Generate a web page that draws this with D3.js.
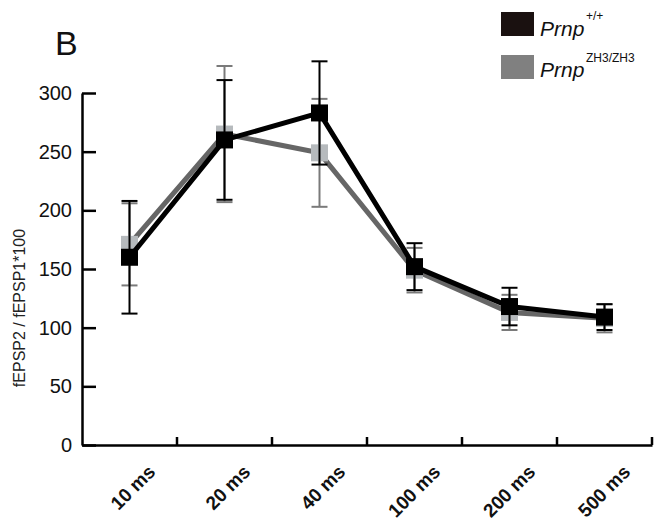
<!DOCTYPE html>
<html>
<head>
<meta charset="utf-8">
<script src="https://cdn.jsdelivr.net/npm/d3@7"></script>
<style>
  body { margin: 0; background: #fff; }
  svg { display: block; font-family: "Liberation Sans", Arial, sans-serif; }
</style>
</head>
<body>
<svg id="chart" width="654" height="524"></svg>
<script>
// paired-pulse intervals
var categories = ["10 ms", "20 ms", "40 ms", "100 ms", "200 ms", "500 ms"];
// Prnp +/+ (black)
var wtMean = [160, 260, 283, 152, 118, 109];
var wtErr = [48, 51, 44, 20, 16, 11];
// Prnp ZH3/ZH3 (grey)
var zhMean = [171, 265, 249, 149, 113, 108];
var zhErr = [35, 58, 46, 19, 15, 12];
var yTicks = [0, 50, 100, 150, 200, 250, 300];

var svg = d3.select("#chart");
var plotLeft = 82, plotRight = 652, plotTop = 93, plotBottom = 445;

var x = d3.scaleBand().domain(categories).range([plotLeft, plotRight]).padding(0);
var y = d3.scaleLinear().domain([0, 300]).range([plotBottom, plotTop]);
var cx = function(d) { return x(d) + x.bandwidth() / 2; };

// y axis, ticks point inward
var yAxis = svg.append("g")
    .attr("transform", "translate(" + plotLeft + ",0)")
    .call(d3.axisLeft(y).tickValues(yTicks).tickSize(-14).tickSizeOuter(0).tickPadding(10));
yAxis.select(".domain").attr("stroke-width", 2.5);
yAxis.selectAll(".tick line").attr("stroke-width", 2.5);
yAxis.selectAll(".tick text").attr("font-size", 20).attr("fill", "#111");

// x axis: labels at band centres, small ticks at band edges
var xAxis = svg.append("g")
    .attr("transform", "translate(0," + plotBottom + ")")
    .call(d3.axisBottom(x).tickSize(0).tickSizeOuter(0));
xAxis.select(".domain").attr("stroke-width", 2.5);
xAxis.selectAll(".tick text")
    .attr("font-size", 19)
    .attr("font-weight", "bold")
    .attr("fill", "#111")
    .attr("text-anchor", "end")
    .attr("dy", 0)
    .attr("y", 0)
    .attr("transform", "translate(27,28) rotate(-45)");
xAxis.selectAll(".edge")
    .data(categories)
    .join("line")
    .attr("class", "edge")
    .attr("x1", function(d) { return x(d) + x.bandwidth(); })
    .attr("x2", function(d) { return x(d) + x.bandwidth(); })
    .attr("y1", 0)
    .attr("y2", -8)
    .attr("stroke", "#000")
    .attr("stroke-width", 2.5);

// y label
svg.append("text")
    .attr("transform", "translate(25,308) rotate(-90)")
    .attr("text-anchor", "middle")
    .attr("font-size", 16)
    .attr("fill", "#222")
    .text("fEPSP2 / fEPSP1*100");

// panel letter
svg.append("text")
    .attr("x", 55).attr("y", 55)
    .attr("font-size", 34)
    .attr("fill", "#111")
    .text("B");

function drawSeries(mean, err, o) {
    var g = svg.append("g");
    var line = d3.line()
        .x(function(d, i) { return cx(categories[i]); })
        .y(function(d) { return y(d); });
    g.append("path")
        .datum(mean)
        .attr("d", line)
        .attr("fill", "none")
        .attr("stroke", o.line)
        .attr("stroke-width", 5);
    var bars = g.selectAll(".err")
        .data(mean)
        .join("g");
    bars.append("line")
        .attr("x1", function(d, i) { return cx(categories[i]); })
        .attr("x2", function(d, i) { return cx(categories[i]); })
        .attr("y1", function(d, i) { return y(d + err[i]); })
        .attr("y2", function(d, i) { return y(d - err[i]); })
        .attr("stroke", o.bar)
        .attr("stroke-width", 2);
    [1, -1].forEach(function(s) {
        bars.append("line")
            .attr("x1", function(d, i) { return cx(categories[i]) - 8; })
            .attr("x2", function(d, i) { return cx(categories[i]) + 8; })
            .attr("y1", function(d, i) { return y(d + s * err[i]); })
            .attr("y2", function(d, i) { return y(d + s * err[i]); })
            .attr("stroke", o.bar)
            .attr("stroke-width", 2);
    });
    g.selectAll("rect")
        .data(mean)
        .join("rect")
        .attr("x", function(d, i) { return cx(categories[i]) - 8.5; })
        .attr("y", function(d) { return y(d) - 8.5; })
        .attr("width", 17)
        .attr("height", 17)
        .attr("fill", o.marker);
}

drawSeries(zhMean, zhErr, { line: "#666666", bar: "#7a7a7a", marker: "#b6babd" });
drawSeries(wtMean, wtErr, { line: "#000000", bar: "#000000", marker: "#000000" });

// legend
var legend = [
    { sup: "+/+", fill: "#1a1110", y: 12, base: 36, supY: 20 },
    { sup: "ZH3/ZH3", fill: "#808080", y: 55, base: 77, supY: 62 }
];
var lg = svg.append("g");
legend.forEach(function(l) {
    lg.append("rect").attr("x", 501).attr("y", l.y).attr("width", 33).attr("height", 24).attr("fill", l.fill);
    lg.append("text").attr("x", 540).attr("y", l.base).attr("font-size", 21).attr("font-style", "italic")
        .attr("fill", "#111").text("Prnp");
    lg.append("text").attr("x", 586).attr("y", l.supY).attr("font-size", 12)
        .attr("fill", "#111").text(l.sup);
});
</script>
</body>
</html>
